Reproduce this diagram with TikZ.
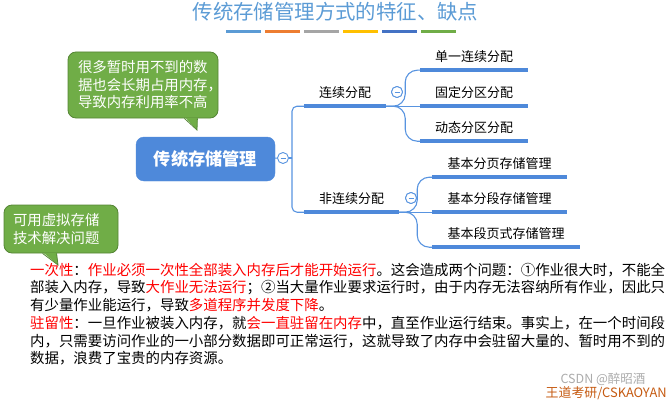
\documentclass[tikz,border=0pt]{standalone}
\usepackage{fontspec}
\setmainfont{Noto Sans CJK SC}
\definecolor{titleblue}{RGB}{91,155,213}
\definecolor{mainblue}{RGB}{78,137,218}
\definecolor{linkblue}{RGB}{88,148,224}
\definecolor{tipgreen}{RGB}{112,173,71}
\definecolor{tipedge}{RGB}{84,133,52}
\definecolor{warnred}{RGB}{255,0,0}
\definecolor{markorange}{RGB}{197,90,17}
\definecolor{bar1}{RGB}{91,155,213}
\definecolor{bar2}{RGB}{237,125,49}
\definecolor{bar3}{RGB}{165,165,165}
\definecolor{bar4}{RGB}{255,192,0}
\definecolor{bar5}{RGB}{68,114,196}
\definecolor{bar6}{RGB}{112,173,71}
\newcommand{\redtxt}[1]{\textcolor{warnred}{#1}}
\begin{document}
\begin{tikzpicture}[x=1pt, y=-1pt,
    topic/.style={minimum height=26pt, inner xsep=0pt, font=\fontsize{13}{14}\selectfont, text=black},
    fold/.style={circle, draw=linkblue, fill=white, line width=0.9pt, minimum size=11pt, inner sep=0pt,
      path picture={\draw[linkblue, line width=0.9pt] ([xshift=-2.5pt]path picture bounding box.center) -- ([xshift=2.5pt]path picture bounding box.center);}},
    branch/.style={linkblue, line width=1.1pt},
    underline/.style={mainblue, line width=3.5pt},
    mainbox/.style={rounded corners=8pt, fill=mainblue, draw=mainblue, minimum width=139pt, minimum height=44pt,
      text=white, font=\bfseries\fontsize{17.2}{20}\selectfont},
    tipbox/.style={draw=tipedge, fill=tipgreen, line width=0.8pt, rounded corners=8pt, text=white, align=left,
      font=\fontsize{14.4}{17.5}\selectfont, inner ysep=0pt},
    tipline/.style={tipedge, line width=0.8pt},
    para/.style={anchor=west, inner sep=0pt, font=\fontsize{14.43}{17.5}\selectfont}
  ]
  \useasboundingbox (0,0) rectangle (668,401);

  % Title and colour bars
  \node[font=\fontsize{20.4}{24}\selectfont, text=titleblue] (title) at (335.5,11.5) {传统存储管理方式的特征、缺点};
  \foreach \c [count=\i from 0] in {bar1,bar2,bar3,bar4,bar5,bar6}
    \draw[\c, line width=3.5pt] ({226+39*\i},31.5) -- ++(35,0);

  % Callouts
  \node[tipbox, text width=130pt, inner xsep=10pt, minimum height=66pt] (tipmem) at (143,85)
    {很多暂时用不到的数\\据也会长期占用内存，\\导致内存利用率不高};
  \coordinate (tipmemend) at (197,130);
  \fill[tipgreen] ([xshift=-33pt,yshift=0.6pt]tipmem.south east) -- (tipmemend) -- ([xshift=-21pt,yshift=0.6pt]tipmem.south east) -- cycle;
  \draw[tipline] ([xshift=-34pt]tipmem.south east) -- (tipmemend) -- ([xshift=-21pt]tipmem.south east);

  \node[tipbox, text width=96pt, inner xsep=9pt, minimum height=48pt] (tipvm) at (61,229)
    {可用虚拟存储\\技术解决问题};
  \coordinate (tipvmend) at (58,265);
  \fill[tipgreen] ([xshift=40pt,yshift=0.6pt]tipvm.south west) -- (tipvmend) -- ([xshift=53pt,yshift=0.6pt]tipvm.south west) -- cycle;
  \draw[tipline] ([xshift=39pt]tipvm.south west) -- (tipvmend) -- ([xshift=53pt]tipvm.south west);

  % Define nodes
  \node[mainbox] (main) at (205.5,159) {传统存储管理};
  \node[fold] (mainfold) at (283,158) {};
  \coordinate (spine) at (292,158);

  \node[topic, minimum width=82pt] (cont) at (345,93) {连续分配};
  \node[fold] (contfold) at (397,92) {};
  \node[topic, minimum width=108pt] (c1) at (474,57) {单一连续分配};
  \node[topic, minimum width=108pt] (c2) at (474,93) {固定分区分配};
  \node[topic, minimum width=108pt] (c3) at (474,128) {动态分区分配};

  \node[topic, minimum width=95pt] (noncont) at (351.5,199) {非连续分配};
  \node[fold] (noncontfold) at (411,198) {};
  \node[topic, minimum width=135pt] (n1) at (499.5,164) {基本分页存储管理};
  \node[topic, minimum width=135pt] (n2) at (499.5,199) {基本分段存储管理};
  \node[topic, minimum width=148pt] (n3) at (506,234) {基本段页式存储管理};

  % Draw edges
  \draw[branch] (main) -- (mainfold);
  \draw[branch] (mainfold) -- (spine);
  \draw[branch, rounded corners=5pt] (spine) |- (cont.south west);
  \draw[branch, rounded corners=5pt] (spine) |- (noncont.south west);

  \coordinate (contsplit) at ([xshift=19pt]cont.south east);
  \draw[branch] (cont.south east) -- (c2.south west);
  \draw[branch, rounded corners=12pt] (cont.south east) -- (contsplit) |- (c1.south west);
  \draw[branch, rounded corners=12pt] (cont.south east) -- (contsplit) |- (c3.south west);

  \coordinate (noncontsplit) at ([xshift=18pt]noncont.south east);
  \draw[branch] (noncont.south east) -- (n2.south west);
  \draw[branch, rounded corners=12pt] (noncont.south east) -- (noncontsplit) |- (n1.south west);
  \draw[branch, rounded corners=12pt] (noncont.south east) -- (noncontsplit) |- (n3.south west);

  \foreach \n in {cont,c1,c2,c3,noncont,n1,n2,n3}
    \draw[underline] (\n.south west) -- (\n.south east);
  \node[fold] at (contfold) {};
  \node[fold] at (noncontfold) {};

  % Text below
  \node[para] (p1a) at (30,270) {\redtxt{一次性}：\redtxt{作业必须一次性全部装入内存后才能开始运行}。这会造成两个问题：①作业很大时，不能全};
  \node[para] (p1b) at (30,287.5) {部装入内存，导致\redtxt{大作业无法运行}；②当大量作业要求运行时，由于内存无法容纳所有作业，因此只};
  \node[para] (p1c) at (30,305) {有少量作业能运行，导致\redtxt{多道程序并发度下降}。};
  \node[para] (p2a) at (30,323.5) {\redtxt{驻留性}：一旦作业被装入内存，就\redtxt{会一直驻留在内存}中，直至作业运行结束。事实上，在一个时间段};
  \node[para] (p2b) at (30,341) {内，只需要访问作业的一小部分数据即可正常运行，这就导致了内存中会驻留大量的、暂时用不到的};
  \node[para] (p2c) at (30,358.5) {数据，浪费了宝贵的内存资源。};

  % Marks
  \node[inner sep=0pt, font=\fontsize{12.5}{14}\selectfont, text=black!33] (csdn) at (603,379) {CSDN @醉昭酒};
  \node[anchor=east, inner sep=0pt, font=\fontsize{12.9}{15}\selectfont, text=markorange] (brand) at (667,393.5) {王道考研/CSKAOYAN};
\end{tikzpicture}
\end{document}
